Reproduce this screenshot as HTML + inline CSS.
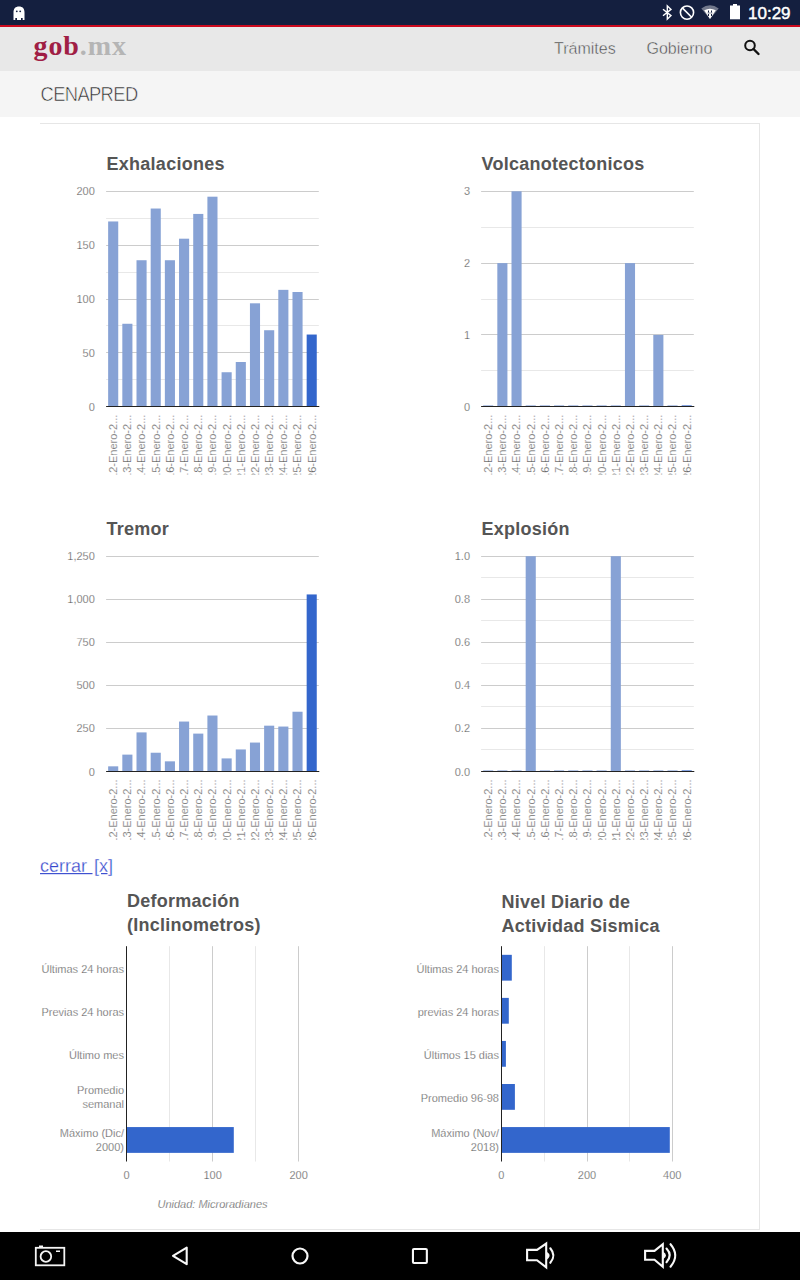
<!DOCTYPE html>
<html><head><meta charset="utf-8"><title>CENAPRED</title>
<style>
html,body{margin:0;padding:0;}
body{width:800px;height:1280px;overflow:hidden;position:relative;background:#fff;font-family:"Liberation Sans", sans-serif;}
.abs{position:absolute;}
.ls{font-family:"Liberation Sans", sans-serif;}
#sb{left:0;top:0;width:800px;height:25px;background:#141f3f;}
#red{left:0;top:25px;width:800px;height:2px;background:#cc0a1e;}
#hdr{left:0;top:27px;width:800px;height:44px;background:#e8e8e8;}
#sub{left:0;top:71px;width:800px;height:46px;background:#f5f5f5;}
#nav{left:0;top:1232px;width:800px;height:48px;background:#000;}
.ttl{font-family:"Liberation Sans", sans-serif;font-weight:bold;font-size:18px;fill:#555555;letter-spacing:0.25px;}
.yl{font-family:"Liberation Sans", sans-serif;font-size:11px;fill:#555555;stroke:#fff;stroke-width:0.25px;}
.xl{font-family:"Liberation Sans", sans-serif;font-size:11px;fill:#555555;stroke:#fff;stroke-width:0.25px;}
.unit{font-family:"Liberation Sans", sans-serif;font-size:11px;font-style:italic;fill:#555555;stroke:#fff;stroke-width:0.25px;}
</style></head><body>
<div class="abs" id="sb"></div>
<div class="abs" id="red"></div>
<div class="abs" id="hdr"></div>
<div class="abs" id="sub"></div>
<svg class="abs" style="left:0;top:0" width="800" height="1280" viewBox="0 0 800 1280">
<!-- status bar icons -->
<g fill="#fff">
<path d="M13.5 12.5 C13.5 8.5 15.5 6.5 19 6.5 C22.5 6.5 24.5 8.5 24.5 12.5 L24.5 20 L22.7 20 L22.7 18 L21 18 L21 20 L17 20 L17 18 L15.3 18 L15.3 20 L13.5 20 Z"/>
</g>
<circle cx="16.8" cy="11.3" r="0.9" fill="#141f3f"/><circle cx="20.2" cy="11.3" r="0.9" fill="#141f3f"/>
<g fill="none" stroke="#fff" stroke-width="1.4">
<path d="M663 9.2 L671 15.6 L667.3 19.2 L667.3 5.8 L671 9.4 L663 15.8"/>
<circle cx="687" cy="12.6" r="6.6" stroke-width="1.6"/>
<path d="M682.3 7.9 L691.7 17.3" stroke-width="1.6"/>
</g>
<path d="M701.3 8.6 Q710 2 718.7 8.6 L710 19 Z" fill="#fff" opacity="0.4"/>
<path d="M704.2 10.3 Q710 7.3 715.8 10.3 L710 19 Z" fill="#fff"/>
<g fill="#141f3f"><rect x="708" y="10.5" width="1" height="2"/><rect x="711" y="10.5" width="1" height="2"/><rect x="707.5" y="12.6" width="5" height="0.8" opacity="0.6"/><rect x="708" y="14" width="1" height="2"/><rect x="711" y="14" width="1" height="2"/></g>
<rect x="730" y="5.5" width="10" height="13.8" fill="#fff"/><rect x="733" y="4" width="4" height="2" fill="#fff"/>
<text x="748" y="19.3" class="ls" font-size="17" fill="#fff" stroke="#fff" stroke-width="0.45">10:29</text>
<!-- header -->
<text x="33.5" y="55.4" font-family="&quot;Liberation Serif&quot;, serif" font-weight="bold" font-size="28" letter-spacing="0.9" fill="#a01e45">gob<tspan fill="#b5b5b5">.mx</tspan></text>
<text x="554" y="53.8" class="ls" font-size="16" fill="#444" stroke="#e8e8e8" stroke-width="0.45">Trámites</text>
<text x="646.5" y="53.8" class="ls" font-size="16" fill="#444" stroke="#e8e8e8" stroke-width="0.45">Gobierno</text>
<g fill="none" stroke="#111" stroke-width="2">
<circle cx="750" cy="45.5" r="4.8"/>
<path d="M753.5 49 L758.5 54" stroke-width="2.4" stroke-linecap="round"/>
</g>
<text x="40.5" y="101" class="ls" font-size="20" fill="#2a2a2a" stroke="#f5f5f5" stroke-width="0.6" letter-spacing="-0.7" transform="translate(40.5 0) scale(0.92 1) translate(-40.5 0)">CENAPRED</text>
<!-- card -->
<rect x="40" y="123" width="720" height="1" fill="#e6e6e6"/>
<rect x="759" y="123" width="1" height="1107" fill="#e6e6e6"/>
<rect x="40" y="1229" width="720" height="1" fill="#e6e6e6"/>
<text x="106.6" y="169.8" class="ttl">Exhalaciones</text>
<rect x="106.1" y="379" width="212.7" height="1" fill="#e8e8e8"/>
<rect x="106.1" y="325" width="212.7" height="1" fill="#e8e8e8"/>
<rect x="106.1" y="272" width="212.7" height="1" fill="#e8e8e8"/>
<rect x="106.1" y="218" width="212.7" height="1" fill="#e8e8e8"/>
<text x="94.8" y="410.7" class="yl" text-anchor="end">0</text>
<rect x="106.1" y="352" width="212.7" height="1" fill="#cccccc"/>
<text x="94.8" y="356.85" class="yl" text-anchor="end">50</text>
<rect x="106.1" y="299" width="212.7" height="1" fill="#cccccc"/>
<text x="94.8" y="303" class="yl" text-anchor="end">100</text>
<rect x="106.1" y="245" width="212.7" height="1" fill="#cccccc"/>
<text x="94.8" y="249.15" class="yl" text-anchor="end">150</text>
<rect x="106.1" y="191" width="212.7" height="1" fill="#cccccc"/>
<text x="94.8" y="195.3" class="yl" text-anchor="end">200</text>
<rect x="108.14" y="221.46" width="10.1" height="185.24" fill="#87a2d5"/>
<rect x="122.32" y="323.77" width="10.1" height="82.93" fill="#87a2d5"/>
<rect x="136.5" y="260.23" width="10.1" height="146.47" fill="#87a2d5"/>
<rect x="150.68" y="208.53" width="10.1" height="198.17" fill="#87a2d5"/>
<rect x="164.86" y="260.23" width="10.1" height="146.47" fill="#87a2d5"/>
<rect x="179.04" y="238.69" width="10.1" height="168.01" fill="#87a2d5"/>
<rect x="193.22" y="213.92" width="10.1" height="192.78" fill="#87a2d5"/>
<rect x="207.4" y="196.69" width="10.1" height="210.01" fill="#87a2d5"/>
<rect x="221.58" y="372.24" width="10.1" height="34.46" fill="#87a2d5"/>
<rect x="235.76" y="362" width="10.1" height="44.7" fill="#87a2d5"/>
<rect x="249.94" y="303.31" width="10.1" height="103.39" fill="#87a2d5"/>
<rect x="264.12" y="330.23" width="10.1" height="76.47" fill="#87a2d5"/>
<rect x="278.3" y="289.85" width="10.1" height="116.85" fill="#87a2d5"/>
<rect x="292.48" y="292" width="10.1" height="114.7" fill="#87a2d5"/>
<rect x="306.66" y="334.54" width="10.1" height="72.16" fill="#3366cc"/>
<rect x="106.1" y="406" width="213.2" height="1" fill="#222222"/>
<clipPath id="c106_191"><rect x="96.1" y="406.7" width="232.7" height="67.9"/></clipPath>
<g clip-path="url(#c106_191)">
<text transform="translate(117.09,414.7) rotate(-90)" text-anchor="end" class="xl">12-Enero-2...</text>
<text transform="translate(131.27,414.7) rotate(-90)" text-anchor="end" class="xl">13-Enero-2...</text>
<text transform="translate(145.45,414.7) rotate(-90)" text-anchor="end" class="xl">14-Enero-2...</text>
<text transform="translate(159.63,414.7) rotate(-90)" text-anchor="end" class="xl">15-Enero-2...</text>
<text transform="translate(173.81,414.7) rotate(-90)" text-anchor="end" class="xl">16-Enero-2...</text>
<text transform="translate(187.99,414.7) rotate(-90)" text-anchor="end" class="xl">17-Enero-2...</text>
<text transform="translate(202.17,414.7) rotate(-90)" text-anchor="end" class="xl">18-Enero-2...</text>
<text transform="translate(216.35,414.7) rotate(-90)" text-anchor="end" class="xl">19-Enero-2...</text>
<text transform="translate(230.53,414.7) rotate(-90)" text-anchor="end" class="xl">20-Enero-2...</text>
<text transform="translate(244.71,414.7) rotate(-90)" text-anchor="end" class="xl">21-Enero-2...</text>
<text transform="translate(258.89,414.7) rotate(-90)" text-anchor="end" class="xl">22-Enero-2...</text>
<text transform="translate(273.07,414.7) rotate(-90)" text-anchor="end" class="xl">23-Enero-2...</text>
<text transform="translate(287.25,414.7) rotate(-90)" text-anchor="end" class="xl">24-Enero-2...</text>
<text transform="translate(301.43,414.7) rotate(-90)" text-anchor="end" class="xl">25-Enero-2...</text>
<text transform="translate(315.61,414.7) rotate(-90)" text-anchor="end" class="xl">26-Enero-2...</text>
</g>
<text x="481.6" y="169.8" class="ttl">Volcanotectonicos</text>
<rect x="481.1" y="370" width="212.7" height="1" fill="#e8e8e8"/>
<rect x="481.1" y="299" width="212.7" height="1" fill="#e8e8e8"/>
<rect x="481.1" y="227" width="212.7" height="1" fill="#e8e8e8"/>
<text x="470" y="410.7" class="yl" text-anchor="end">0</text>
<rect x="481.1" y="334" width="212.7" height="1" fill="#cccccc"/>
<text x="470" y="338.9" class="yl" text-anchor="end">1</text>
<rect x="481.1" y="263" width="212.7" height="1" fill="#cccccc"/>
<text x="470" y="267.1" class="yl" text-anchor="end">2</text>
<rect x="481.1" y="191" width="212.7" height="1" fill="#cccccc"/>
<text x="470" y="195.3" class="yl" text-anchor="end">3</text>
<rect x="483.14" y="405" width="10.1" height="1" fill="#87a2d5" opacity="0.6"/>
<rect x="497.32" y="263.1" width="10.1" height="143.6" fill="#87a2d5"/>
<rect x="511.5" y="191.3" width="10.1" height="215.4" fill="#87a2d5"/>
<rect x="525.68" y="405" width="10.1" height="1" fill="#87a2d5" opacity="0.6"/>
<rect x="539.86" y="405" width="10.1" height="1" fill="#87a2d5" opacity="0.6"/>
<rect x="554.04" y="405" width="10.1" height="1" fill="#87a2d5" opacity="0.6"/>
<rect x="568.22" y="405" width="10.1" height="1" fill="#87a2d5" opacity="0.6"/>
<rect x="582.4" y="405" width="10.1" height="1" fill="#87a2d5" opacity="0.6"/>
<rect x="596.58" y="405" width="10.1" height="1" fill="#87a2d5" opacity="0.6"/>
<rect x="610.76" y="405" width="10.1" height="1" fill="#87a2d5" opacity="0.6"/>
<rect x="624.94" y="263.1" width="10.1" height="143.6" fill="#87a2d5"/>
<rect x="639.12" y="405" width="10.1" height="1" fill="#87a2d5" opacity="0.6"/>
<rect x="653.3" y="334.9" width="10.1" height="71.8" fill="#87a2d5"/>
<rect x="667.48" y="405" width="10.1" height="1" fill="#87a2d5" opacity="0.6"/>
<rect x="681.66" y="405" width="10.1" height="1" fill="#3366cc" opacity="0.6"/>
<rect x="481.1" y="406" width="213.2" height="1" fill="#222222"/>
<clipPath id="c481_191"><rect x="471.1" y="406.7" width="232.7" height="67.9"/></clipPath>
<g clip-path="url(#c481_191)">
<text transform="translate(492.09,414.7) rotate(-90)" text-anchor="end" class="xl">12-Enero-2...</text>
<text transform="translate(506.27,414.7) rotate(-90)" text-anchor="end" class="xl">13-Enero-2...</text>
<text transform="translate(520.45,414.7) rotate(-90)" text-anchor="end" class="xl">14-Enero-2...</text>
<text transform="translate(534.63,414.7) rotate(-90)" text-anchor="end" class="xl">15-Enero-2...</text>
<text transform="translate(548.81,414.7) rotate(-90)" text-anchor="end" class="xl">16-Enero-2...</text>
<text transform="translate(562.99,414.7) rotate(-90)" text-anchor="end" class="xl">17-Enero-2...</text>
<text transform="translate(577.17,414.7) rotate(-90)" text-anchor="end" class="xl">18-Enero-2...</text>
<text transform="translate(591.35,414.7) rotate(-90)" text-anchor="end" class="xl">19-Enero-2...</text>
<text transform="translate(605.53,414.7) rotate(-90)" text-anchor="end" class="xl">20-Enero-2...</text>
<text transform="translate(619.71,414.7) rotate(-90)" text-anchor="end" class="xl">21-Enero-2...</text>
<text transform="translate(633.89,414.7) rotate(-90)" text-anchor="end" class="xl">22-Enero-2...</text>
<text transform="translate(648.07,414.7) rotate(-90)" text-anchor="end" class="xl">23-Enero-2...</text>
<text transform="translate(662.25,414.7) rotate(-90)" text-anchor="end" class="xl">24-Enero-2...</text>
<text transform="translate(676.43,414.7) rotate(-90)" text-anchor="end" class="xl">25-Enero-2...</text>
<text transform="translate(690.61,414.7) rotate(-90)" text-anchor="end" class="xl">26-Enero-2...</text>
</g>
<text x="106.6" y="534.8" class="ttl">Tremor</text>
<text x="94.8" y="775.5" class="yl" text-anchor="end">0</text>
<rect x="106.1" y="728" width="212.7" height="1" fill="#cccccc"/>
<text x="94.8" y="732.44" class="yl" text-anchor="end">250</text>
<rect x="106.1" y="685" width="212.7" height="1" fill="#cccccc"/>
<text x="94.8" y="689.38" class="yl" text-anchor="end">500</text>
<rect x="106.1" y="642" width="212.7" height="1" fill="#cccccc"/>
<text x="94.8" y="646.32" class="yl" text-anchor="end">750</text>
<rect x="106.1" y="599" width="212.7" height="1" fill="#cccccc"/>
<text x="94.8" y="603.26" class="yl" text-anchor="end">1,000</text>
<rect x="106.1" y="556" width="212.7" height="1" fill="#cccccc"/>
<text x="94.8" y="560.2" class="yl" text-anchor="end">1,250</text>
<rect x="108.14" y="766.33" width="10.1" height="5.17" fill="#87a2d5"/>
<rect x="122.32" y="754.62" width="10.1" height="16.88" fill="#87a2d5"/>
<rect x="136.5" y="732.4" width="10.1" height="39.1" fill="#87a2d5"/>
<rect x="150.68" y="752.73" width="10.1" height="18.77" fill="#87a2d5"/>
<rect x="164.86" y="761.34" width="10.1" height="10.16" fill="#87a2d5"/>
<rect x="179.04" y="721.55" width="10.1" height="49.95" fill="#87a2d5"/>
<rect x="193.22" y="733.61" width="10.1" height="37.89" fill="#87a2d5"/>
<rect x="207.4" y="715.52" width="10.1" height="55.98" fill="#87a2d5"/>
<rect x="221.58" y="758.41" width="10.1" height="13.09" fill="#87a2d5"/>
<rect x="235.76" y="749.45" width="10.1" height="22.05" fill="#87a2d5"/>
<rect x="249.94" y="742.56" width="10.1" height="28.94" fill="#87a2d5"/>
<rect x="264.12" y="725.68" width="10.1" height="45.82" fill="#87a2d5"/>
<rect x="278.3" y="726.55" width="10.1" height="44.95" fill="#87a2d5"/>
<rect x="292.48" y="711.73" width="10.1" height="59.77" fill="#87a2d5"/>
<rect x="306.66" y="594.44" width="10.1" height="177.06" fill="#3366cc"/>
<rect x="106.1" y="771" width="213.2" height="1" fill="#222222"/>
<clipPath id="c106_556"><rect x="96.1" y="771.5" width="232.7" height="68.3"/></clipPath>
<g clip-path="url(#c106_556)">
<text transform="translate(117.09,779.5) rotate(-90)" text-anchor="end" class="xl">12-Enero-2...</text>
<text transform="translate(131.27,779.5) rotate(-90)" text-anchor="end" class="xl">13-Enero-2...</text>
<text transform="translate(145.45,779.5) rotate(-90)" text-anchor="end" class="xl">14-Enero-2...</text>
<text transform="translate(159.63,779.5) rotate(-90)" text-anchor="end" class="xl">15-Enero-2...</text>
<text transform="translate(173.81,779.5) rotate(-90)" text-anchor="end" class="xl">16-Enero-2...</text>
<text transform="translate(187.99,779.5) rotate(-90)" text-anchor="end" class="xl">17-Enero-2...</text>
<text transform="translate(202.17,779.5) rotate(-90)" text-anchor="end" class="xl">18-Enero-2...</text>
<text transform="translate(216.35,779.5) rotate(-90)" text-anchor="end" class="xl">19-Enero-2...</text>
<text transform="translate(230.53,779.5) rotate(-90)" text-anchor="end" class="xl">20-Enero-2...</text>
<text transform="translate(244.71,779.5) rotate(-90)" text-anchor="end" class="xl">21-Enero-2...</text>
<text transform="translate(258.89,779.5) rotate(-90)" text-anchor="end" class="xl">22-Enero-2...</text>
<text transform="translate(273.07,779.5) rotate(-90)" text-anchor="end" class="xl">23-Enero-2...</text>
<text transform="translate(287.25,779.5) rotate(-90)" text-anchor="end" class="xl">24-Enero-2...</text>
<text transform="translate(301.43,779.5) rotate(-90)" text-anchor="end" class="xl">25-Enero-2...</text>
<text transform="translate(315.61,779.5) rotate(-90)" text-anchor="end" class="xl">26-Enero-2...</text>
</g>
<text x="481.6" y="534.8" class="ttl">Explosión</text>
<rect x="481.1" y="749" width="212.7" height="1" fill="#e8e8e8"/>
<rect x="481.1" y="706" width="212.7" height="1" fill="#e8e8e8"/>
<rect x="481.1" y="663" width="212.7" height="1" fill="#e8e8e8"/>
<rect x="481.1" y="620" width="212.7" height="1" fill="#e8e8e8"/>
<rect x="481.1" y="577" width="212.7" height="1" fill="#e8e8e8"/>
<text x="470" y="775.5" class="yl" text-anchor="end">0.0</text>
<rect x="481.1" y="728" width="212.7" height="1" fill="#cccccc"/>
<text x="470" y="732.44" class="yl" text-anchor="end">0.2</text>
<rect x="481.1" y="685" width="212.7" height="1" fill="#cccccc"/>
<text x="470" y="689.38" class="yl" text-anchor="end">0.4</text>
<rect x="481.1" y="642" width="212.7" height="1" fill="#cccccc"/>
<text x="470" y="646.32" class="yl" text-anchor="end">0.6</text>
<rect x="481.1" y="599" width="212.7" height="1" fill="#cccccc"/>
<text x="470" y="603.26" class="yl" text-anchor="end">0.8</text>
<rect x="481.1" y="556" width="212.7" height="1" fill="#cccccc"/>
<text x="470" y="560.2" class="yl" text-anchor="end">1.0</text>
<rect x="483.14" y="770" width="10.1" height="1" fill="#87a2d5" opacity="0.6"/>
<rect x="497.32" y="770" width="10.1" height="1" fill="#87a2d5" opacity="0.6"/>
<rect x="511.5" y="770" width="10.1" height="1" fill="#87a2d5" opacity="0.6"/>
<rect x="525.68" y="556.2" width="10.1" height="215.3" fill="#87a2d5"/>
<rect x="539.86" y="770" width="10.1" height="1" fill="#87a2d5" opacity="0.6"/>
<rect x="554.04" y="770" width="10.1" height="1" fill="#87a2d5" opacity="0.6"/>
<rect x="568.22" y="770" width="10.1" height="1" fill="#87a2d5" opacity="0.6"/>
<rect x="582.4" y="770" width="10.1" height="1" fill="#87a2d5" opacity="0.6"/>
<rect x="596.58" y="770" width="10.1" height="1" fill="#87a2d5" opacity="0.6"/>
<rect x="610.76" y="556.2" width="10.1" height="215.3" fill="#87a2d5"/>
<rect x="624.94" y="770" width="10.1" height="1" fill="#87a2d5" opacity="0.6"/>
<rect x="639.12" y="770" width="10.1" height="1" fill="#87a2d5" opacity="0.6"/>
<rect x="653.3" y="770" width="10.1" height="1" fill="#87a2d5" opacity="0.6"/>
<rect x="667.48" y="770" width="10.1" height="1" fill="#87a2d5" opacity="0.6"/>
<rect x="681.66" y="770" width="10.1" height="1" fill="#3366cc" opacity="0.6"/>
<rect x="481.1" y="771" width="213.2" height="1" fill="#222222"/>
<clipPath id="c481_556"><rect x="471.1" y="771.5" width="232.7" height="68.3"/></clipPath>
<g clip-path="url(#c481_556)">
<text transform="translate(492.09,779.5) rotate(-90)" text-anchor="end" class="xl">12-Enero-2...</text>
<text transform="translate(506.27,779.5) rotate(-90)" text-anchor="end" class="xl">13-Enero-2...</text>
<text transform="translate(520.45,779.5) rotate(-90)" text-anchor="end" class="xl">14-Enero-2...</text>
<text transform="translate(534.63,779.5) rotate(-90)" text-anchor="end" class="xl">15-Enero-2...</text>
<text transform="translate(548.81,779.5) rotate(-90)" text-anchor="end" class="xl">16-Enero-2...</text>
<text transform="translate(562.99,779.5) rotate(-90)" text-anchor="end" class="xl">17-Enero-2...</text>
<text transform="translate(577.17,779.5) rotate(-90)" text-anchor="end" class="xl">18-Enero-2...</text>
<text transform="translate(591.35,779.5) rotate(-90)" text-anchor="end" class="xl">19-Enero-2...</text>
<text transform="translate(605.53,779.5) rotate(-90)" text-anchor="end" class="xl">20-Enero-2...</text>
<text transform="translate(619.71,779.5) rotate(-90)" text-anchor="end" class="xl">21-Enero-2...</text>
<text transform="translate(633.89,779.5) rotate(-90)" text-anchor="end" class="xl">22-Enero-2...</text>
<text transform="translate(648.07,779.5) rotate(-90)" text-anchor="end" class="xl">23-Enero-2...</text>
<text transform="translate(662.25,779.5) rotate(-90)" text-anchor="end" class="xl">24-Enero-2...</text>
<text transform="translate(676.43,779.5) rotate(-90)" text-anchor="end" class="xl">25-Enero-2...</text>
<text transform="translate(690.61,779.5) rotate(-90)" text-anchor="end" class="xl">26-Enero-2...</text>
</g>
<text x="127" y="907" class="ttl">Deformación</text>
<text x="127" y="930.5" class="ttl">(Inclinometros)</text>
<rect x="169" y="946.2" width="1" height="215.3" fill="#e8e8e8"/>
<rect x="212" y="946.2" width="1" height="215.3" fill="#cccccc"/>
<rect x="255" y="946.2" width="1" height="215.3" fill="#e8e8e8"/>
<rect x="298" y="946.2" width="1" height="215.3" fill="#cccccc"/>
<text x="124" y="972.73" class="yl" text-anchor="end">Últimas 24 horas</text>
<text x="124" y="1015.79" class="yl" text-anchor="end">Previas 24 horas</text>
<text x="124" y="1058.85" class="yl" text-anchor="end">Último mes</text>
<text x="124" y="1093.91" class="yl" text-anchor="end">Promedio</text>
<text x="124" y="1107.91" class="yl" text-anchor="end">semanal</text>
<rect x="126.6" y="1127.07" width="107.2" height="25.8" fill="#3366cc"/>
<text x="124" y="1136.97" class="yl" text-anchor="end">Máximo (Dic/</text>
<text x="124" y="1150.97" class="yl" text-anchor="end">2000)</text>
<rect x="126" y="946.2" width="1" height="215.3" fill="#222222"/>
<text x="126.6" y="1178.5" class="yl" text-anchor="middle">0</text>
<text x="212.6" y="1178.5" class="yl" text-anchor="middle">100</text>
<text x="298.6" y="1178.5" class="yl" text-anchor="middle">200</text>
<text x="501.5" y="908" class="ttl">Nivel Diario de</text>
<text x="501.5" y="931.5" class="ttl">Actividad Sismica</text>
<rect x="544" y="946.2" width="1" height="215.3" fill="#e8e8e8"/>
<rect x="587" y="946.2" width="1" height="215.3" fill="#cccccc"/>
<rect x="629" y="946.2" width="1" height="215.3" fill="#e8e8e8"/>
<rect x="672" y="946.2" width="1" height="215.3" fill="#cccccc"/>
<rect x="501.3" y="954.83" width="10.5" height="25.8" fill="#3366cc"/>
<text x="499" y="972.73" class="yl" text-anchor="end">Últimas 24 horas</text>
<rect x="501.3" y="997.89" width="7.5" height="25.8" fill="#3366cc"/>
<text x="499" y="1015.79" class="yl" text-anchor="end">previas 24 horas</text>
<rect x="501.3" y="1040.95" width="4.6" height="25.8" fill="#3366cc"/>
<text x="499" y="1058.85" class="yl" text-anchor="end">Últimos 15 dias</text>
<rect x="501.3" y="1084.01" width="13.6" height="25.8" fill="#3366cc"/>
<text x="499" y="1101.91" class="yl" text-anchor="end">Promedio 96-98</text>
<rect x="501.3" y="1127.07" width="168.5" height="25.8" fill="#3366cc"/>
<text x="499" y="1136.97" class="yl" text-anchor="end">Máximo (Nov/</text>
<text x="499" y="1150.97" class="yl" text-anchor="end">2018)</text>
<rect x="501" y="946.2" width="1" height="215.3" fill="#222222"/>
<text x="501.3" y="1178.5" class="yl" text-anchor="middle">0</text>
<text x="587" y="1178.5" class="yl" text-anchor="middle">200</text>
<text x="672.3" y="1178.5" class="yl" text-anchor="middle">400</text>
<text x="40" y="872" class="ls" font-size="18" fill="#3446cc" stroke="#fff" stroke-width="0.3">cerrar <tspan dx="2">[x]</tspan></text>
<rect x="40" y="873" width="52.5" height="1.2" fill="#3f51d0"/><rect x="101" y="873" width="6.5" height="1.2" fill="#3f51d0"/>
<text x="212.5" y="1208" class="unit" text-anchor="middle">Unidad: Microradianes</text>
</svg>
<div class="abs" id="nav"></div>
<svg class="abs" style="left:0;top:1232px" width="800" height="48" viewBox="0 1232 800 48">
<g fill="none" stroke="#f4f4f4" stroke-width="1.8">
<rect x="35.8" y="1247.8" width="28.5" height="17.5"/>
<circle cx="45.9" cy="1256.5" r="5.3"/>
</g>
<g fill="none" stroke="#f8f8f8" stroke-width="2.1" stroke-linejoin="round" stroke-linecap="round">
<path d="M173 1255.9 L186.7 1247.6 L186.7 1264.2 Z"/>
<circle cx="300" cy="1256" r="7.5" stroke-width="2.2"/>
<rect x="412.95" y="1248.95" width="13.9" height="14" rx="1"/>
</g>
<g fill="none" stroke="#f8f8f8" stroke-width="2.1" stroke-linejoin="miter">
<path d="M527.1 1249.9 L537 1249.9 L546.2 1243.6 L546.2 1267.4 L537 1260.2 L527.1 1260.2 Z"/>
<path d="M550.3 1248.3 Q556.5 1255.6 550.3 1262.8" stroke-linecap="round"/>
<path d="M645.1 1250.9 L654.5 1250.9 L662.8 1244.3 L662.8 1266.8 L654.5 1259.8 L645.1 1259.8 Z"/>
<path d="M666.5 1248.6 Q673 1255.4 666.5 1262.2" stroke-linecap="round"/>
<path d="M670.5 1244.2 Q680 1255.4 670.5 1266.7" stroke-linecap="round"/>
</g>
<g fill="#f8f8f8">
<path d="M546.5 1251.6 Q552.6 1255.75 546.5 1259.9 Z"/>
<path d="M663 1251.5 Q669 1255.4 663 1259.3 Z"/>
<rect x="56" y="1250.5" width="4" height="1.5"/>
<rect x="39" y="1245.5" width="4" height="1.5"/>
</g>
</svg>
</body></html>
